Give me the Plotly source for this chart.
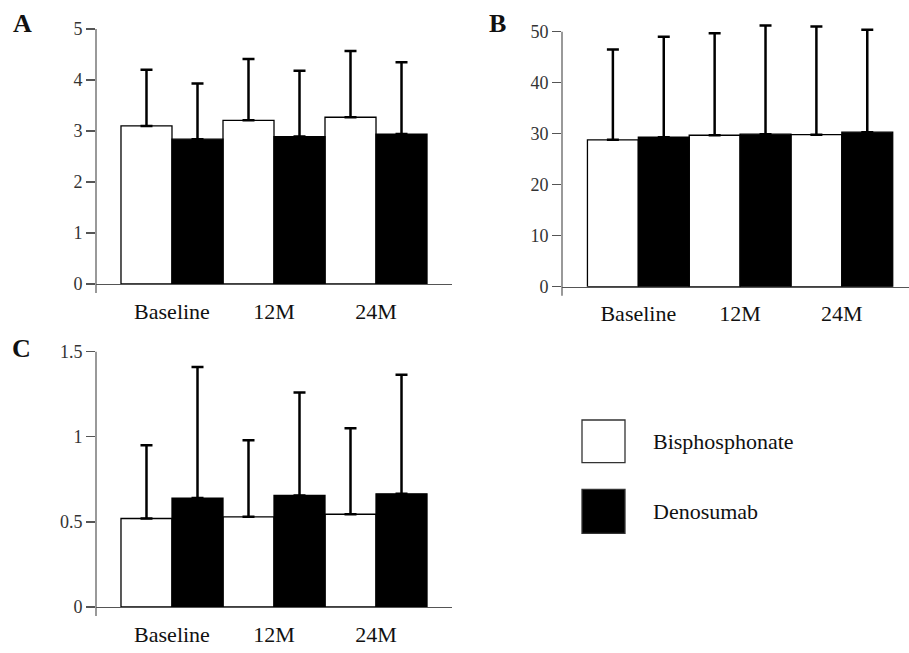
import plotly.graph_objects as go

W, H = 909, 653

categories = ["Baseline", "12M", "24M"]
groups = ["Bisphosphonate", "Denosumab"]

# Panel A
a_bis = [3.10, 3.21, 3.27]
a_bis_top = [4.20, 4.41, 4.57]
a_den = [2.84, 2.89, 2.94]
a_den_top = [3.93, 4.18, 4.35]

# Panel B
b_bis = [28.8, 29.7, 29.8]
b_bis_top = [46.5, 49.7, 51.0]
b_den = [29.3, 29.9, 30.3]
b_den_top = [49.0, 51.2, 50.4]

# Panel C
c_bis = [0.52, 0.53, 0.545]
c_bis_top = [0.95, 0.98, 1.05]
c_den = [0.64, 0.655, 0.665]
c_den_top = [1.41, 1.26, 1.365]

FONT = "Liberation Serif"
AXC = "#555555"


def px_x(p):
    return p / W


def px_y(p):
    return 1 - p / H


fig = go.Figure()

# category spacing ~102 px; group 0 centre sits 76 px right of the y axis
panels = [
    # (suffix, bis, bis_top, den, den_top, xpx, ypx(top tick, zero), ytop, dtick, xrange)
    ("", a_bis, a_bis_top, a_den, a_den_top, (96, 452), (29, 284), 5, 1, [-0.745, 2.745]),
    ("2", b_bis, b_bis_top, b_den, b_den_top, (562, 909), (31.7, 286.7), 50, 10, [-0.75, 2.66]),
    ("3", c_bis, c_bis_top, c_den, c_den_top, (96, 452), (351.7, 607), 1.5, 0.5, [-0.745, 2.745]),
]

EXT = 1.06  # extra headroom so caps above the top tick are not clipped

layout_axes = {}
shapes = []
for suf, bis, bis_top, den, den_top, xpx, ypx, ytop, dt, xr in panels:
    xa = "x" + suf
    ya = "y" + suf
    for name, vals, tops, fill in [
        (groups[0], bis, bis_top, "white"),
        (groups[1], den, den_top, "black"),
    ]:
        fig.add_trace(go.Bar(
            x=categories, y=vals, name=name, showlegend=False,
            marker=dict(color=fill, line=dict(color="black", width=1.3)),
            error_y=dict(type="data", symmetric=False,
                         array=[t - v for t, v in zip(tops, vals)],
                         arrayminus=[0] * len(vals),
                         color="black", thickness=2.5, width=6),
            xaxis=xa, yaxis=ya, hoverinfo="skip",
        ))
    pxu = (ypx[1] - ypx[0]) / ytop
    top_px = ypx[1] - pxu * ytop * EXT
    layout_axes["xaxis" + suf] = dict(
        domain=[px_x(xpx[0]), px_x(xpx[1])], anchor=ya, range=xr,
        showline=True, linecolor=AXC, linewidth=1.2, ticks="",
        showgrid=False, zeroline=False, fixedrange=True, automargin=False,
        tickfont=dict(family=FONT, size=22, color="#111"),
        ticklabelstandoff=7,
    )
    layout_axes["yaxis" + suf] = dict(
        domain=[px_y(ypx[1]), px_y(top_px)], anchor=xa, range=[0, ytop * EXT],
        tickvals=[i * dt for i in range(int(round(ytop / dt)) + 1)],
        showline=False, ticks="outside",
        ticklen=9, tickcolor=AXC, tickwidth=1.2,
        showgrid=False, zeroline=False, fixedrange=True, automargin=False,
        tickfont=dict(family=FONT, size=18, color="#333"),
    )
    # y-axis line: from top tick down to slightly below the baseline
    shapes.append(dict(type="line", xref="paper", yref="paper",
                       x0=px_x(xpx[0]), x1=px_x(xpx[0]),
                       y0=px_y(ypx[0]), y1=px_y(ypx[1] + 9),
                       line=dict(color=AXC, width=1.2)))

# Legend drawn as boxes and text
legend_items = [(groups[0], "white", 420, 462.7), (groups[1], "black", 489.3, 533.3)]
annotations = []
for name, fill, y0, y1 in legend_items:
    shapes.append(dict(type="rect", xref="paper", yref="paper",
                       x0=px_x(582), x1=px_x(625), y0=px_y(y1), y1=px_y(y0),
                       fillcolor=fill, line=dict(color="#333", width=1.3)))
    annotations.append(dict(text=name, xref="paper", yref="paper",
                            x=px_x(651), y=px_y((y0 + y1) / 2), xanchor="left",
                            yanchor="middle", showarrow=False,
                            font=dict(family=FONT, size=22, color="#111")))

for letter, cx, cy in [("A", 22.5, 23.5), ("B", 498, 23.5), ("C", 21, 348.5)]:
    annotations.append(dict(text="<b>" + letter + "</b>", xref="paper", yref="paper",
                            x=px_x(cx), y=px_y(cy), xanchor="center", yanchor="middle",
                            showarrow=False,
                            font=dict(family=FONT, size=26, color="#111")))

fig.update_layout(
    width=W, height=H,
    margin=dict(l=0, r=0, t=0, b=0, autoexpand=False),
    paper_bgcolor="white", plot_bgcolor="white",
    font=dict(family=FONT),
    barmode="group", bargap=0, bargroupgap=0,
    hovermode=False,
    shapes=shapes, annotations=annotations,
    **layout_axes,
)

fig.write_html(
    "out.html",
    config={"displayModeBar": False, "staticPlot": True},
    post_script="document.body.style.margin='0';document.body.style.overflow='hidden';",
)
